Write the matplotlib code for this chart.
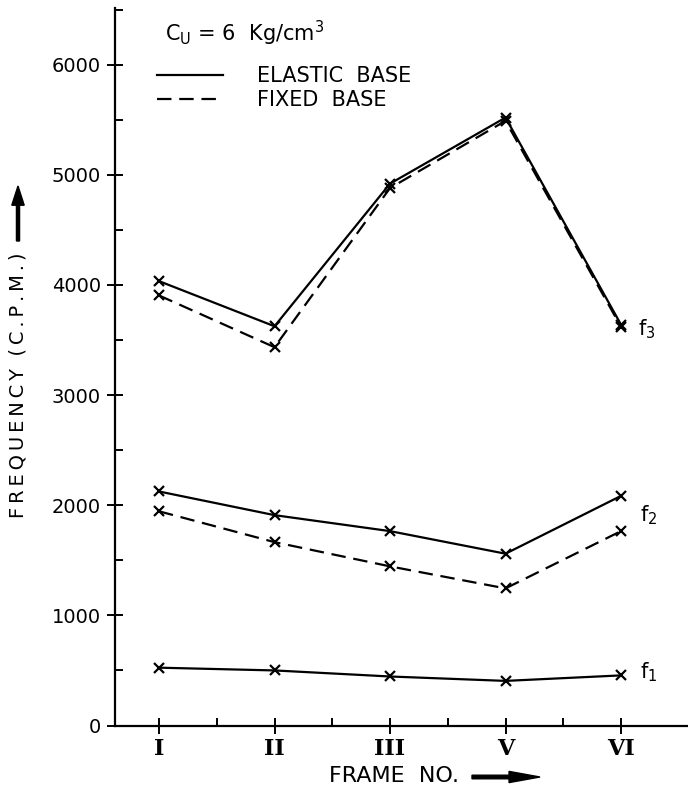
import matplotlib
matplotlib.use("Agg")
import matplotlib.pyplot as plt
from matplotlib.lines import Line2D
import numpy as np

frames = ["I", "II", "III", "V", "VI"]
f1_elastic = [525, 500, 445, 405, 455]
f2_elastic = [2125, 1910, 1765, 1560, 2085]
f2_fixed = [1945, 1665, 1445, 1245, 1765]
f3_elastic = [4035, 3625, 4920, 5520, 3640]
f3_fixed = [3905, 3435, 4880, 5490, 3620]

fig = plt.figure(figsize=(6.88, 8.01), dpi=100)
ax = fig.add_axes([115/688, (801-725.5)/801, 573/688, (725.5-8)/801])

x = np.arange(len(frames))
lw = 1.6
dash = (0, (6.5, 3.5))
mk = dict(marker="x", markersize=6.5, markeredgewidth=1.6, color="black")
ax.plot(x, f1_elastic, linestyle="-", linewidth=lw, **mk)
ax.plot(x, f2_elastic, linestyle="-", linewidth=lw, **mk)
ax.plot(x, f2_fixed, linestyle=dash, linewidth=lw, **mk)
ax.plot(x, f3_elastic, linestyle="-", linewidth=lw, **mk)
ax.plot(x, f3_fixed, linestyle=dash, linewidth=lw, **mk)

ax.set_xlim(-0.381, 4.58)
ax.set_ylim(0, 6515)

for s in ["top", "right"]:
    ax.spines[s].set_visible(False)
for s in ["left", "bottom"]:
    ax.spines[s].set_linewidth(1.6)

ax.set_xticks(x)
ax.set_xticklabels(frames, fontfamily="DejaVu Serif", fontsize=16, fontweight="bold")
ax.set_xticks(x[:-1] + 0.5, minor=True)
ax.set_yticks(np.arange(0, 6001, 1000))
ax.set_yticks(np.arange(500, 6501, 1000), minor=True)
ax.tick_params(axis="both", which="major", direction="inout", length=12, width=1.4, labelsize=14)
ax.tick_params(axis="x", which="major", labelsize=16, pad=3)
ax.tick_params(axis="both", which="minor", direction="in", length=6, width=1.4)
ax.tick_params(axis="y", which="major", pad=4)

# curve labels
ax.annotate("f$_3$", xy=(x[-1], f3_elastic[-1]), xytext=(12, -3), textcoords="offset points",
            fontsize=15, va="center")
ax.annotate("f$_2$", xy=(x[-1], f2_elastic[-1]), xytext=(14, -14), textcoords="offset points",
            fontsize=15, va="center")
ax.annotate("f$_1$", xy=(x[-1], f1_elastic[-1]), xytext=(14, 2), textcoords="offset points",
            fontsize=15, va="center")

# legend
fig.text(165/688, 1 - 33/801, "C$_\\mathregular{U}$ = 6  Kg/cm$^3$", fontsize=15, va="center", ha="left")
handles = [Line2D([0], [0], color="black", linewidth=lw),
           Line2D([0], [0], color="black", linewidth=lw, linestyle=dash)]
ax.legend(handles, ["ELASTIC  BASE", "FIXED  BASE"], loc="upper left",
          bbox_to_anchor=(155/688 - 115/688, 1 - (58 - 8)/717.5),
          bbox_transform=ax.transAxes, frameon=False, fontsize=15,
          handlelength=3.2, handletextpad=1.6, labelspacing=0.2, borderaxespad=0)

# axis labels with arrows
fig.text(18/688, 1 - 385/801, "F R E Q U E N C Y   ( C . P . M . )".replace(" ", "\u2009").replace("\u2009\u2009\u2009", "  "),
         rotation=90, fontsize=14, va="center", ha="center")
fig.text(394/688, 1 - 776/801, "FRAME  NO.", fontsize=16, va="center", ha="center")
fig.patches.append(matplotlib.patches.FancyArrow(472/688, 1 - 777/801, 68/688, 0,
                                                 width=0.0045, head_width=0.014, head_length=0.045,
                                                 length_includes_head=True, color="black",
                                                 transform=fig.transFigure))
fig.patches.append(matplotlib.patches.FancyArrow(18/688, 1 - 241/801, 0, 55/801,
                                                 width=0.0045, head_width=0.018, head_length=0.024,
                                                 length_includes_head=True, color="black",
                                                 transform=fig.transFigure))

fig.savefig("out.png", dpi=100)
